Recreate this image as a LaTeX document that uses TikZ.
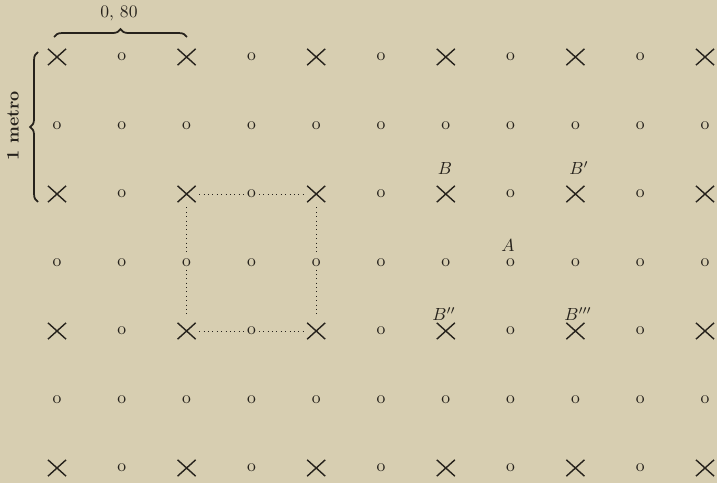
\documentclass[tikz,border=0pt]{standalone}
\usepackage{tikz}
\usetikzlibrary{shapes.misc,decorations.pathreplacing}
\definecolor{papier}{RGB}{215,206,177}
\definecolor{tinte}{RGB}{38,34,28}
\tikzset{
    every node/.style={inner sep=0mm, text=tinte}
}
\tikzset{
    kreuz/.style={cross out, draw=tinte, line width=.8pt, minimum width=9.5pt, minimum height=8.5pt},
    ring/.style={font=\normalsize, inner sep=1.5pt},
    punkte/.style={draw=tinte, dotted, line width=.5pt},
    klammer/.style={draw=tinte, line width=1pt, decorate, decoration={brace, amplitude=4.5pt}}
}

\begin{document}
\begin{tikzpicture}[x=0.02cm, y=-0.02cm]
    \fill[papier] (0,0) rectangle (717,483);
    \useasboundingbox (0,0) rectangle (717,483);

    \foreach \j in {0,...,6}{
        \foreach \i in {0,...,10}{
            \pgfmathtruncatemacro{\art}{mod(\i,2)+mod(\j,2)}
            \ifnum\art=0
                \node[kreuz] (p-\i-\j) at ({57+64.8*\i},{57+68.5*\j}) {};
            \else
                \node[ring] (p-\i-\j) at ({57+64.8*\i},{57+68.5*\j}) {o};
            \fi
        }
    }

    \node (labB) at (445,168) {$B$};
    \node (labB1) at (579,168) {$B'$};
    \node (labA) at (508,245) {$A$};
    \node (labB2) at (444,314) {$B''$};
    \node (labB3) at (578,314) {$B'''$};

    \draw[punkte, shorten <=2pt] (p-2-2.east) -- (p-3-2.west);
    \draw[punkte, shorten >=2pt] (p-3-2.east) -- (p-4-2.west);
    \draw[punkte, shorten <=2pt] (p-2-4.east) -- (p-3-4.west);
    \draw[punkte, shorten >=2pt] (p-3-4.east) -- (p-4-4.west);
    \draw[punkte, shorten <=3pt] (p-2-2.south) -- (p-2-3.north);
    \draw[punkte, shorten >=3pt] (p-2-3.south) -- (p-2-4.north);
    \draw[punkte, shorten <=3pt] (p-4-2.south) -- (p-4-3.north);
    \draw[punkte, shorten >=3pt] (p-4-3.south) -- (p-4-4.north);

    \coordinate (ka) at (54,37);
    \coordinate (kb) at (187,37);
    \coordinate (kc) at (38,202);
    \coordinate (kd) at (38,52);
    \draw[klammer] (ka) -- (kb);
    \draw[klammer] (kc) -- (kd);
    \node (breite) at (119,13) {0, 80};
    \node[rotate=90] (hoehe) at (13,126) {\bfseries 1 metro};
\end{tikzpicture}
\end{document}
